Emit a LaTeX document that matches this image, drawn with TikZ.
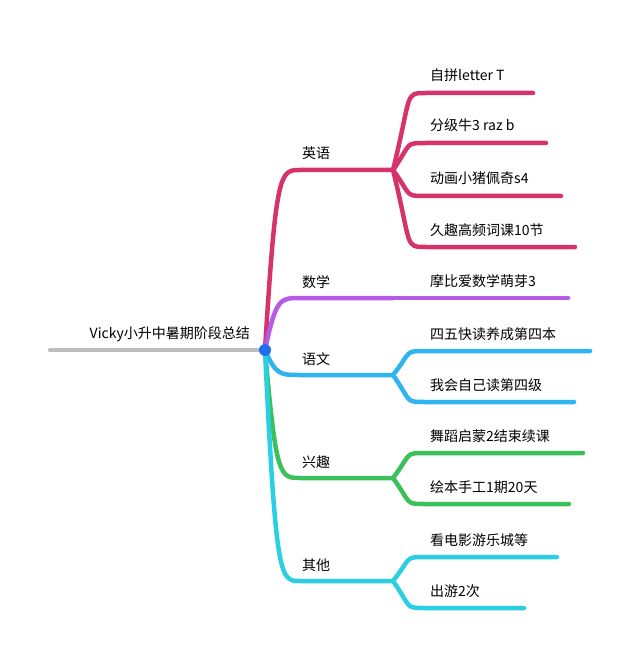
\documentclass[tikz,border=0pt]{standalone}
\usepackage{fontspec}
\setmainfont{Noto Sans CJK SC}
\usetikzlibrary{positioning}
\definecolor{cGrey}{RGB}{190,190,190}
\definecolor{cRed}{RGB}{214,51,108}
\definecolor{cPurple}{RGB}{180,92,232}
\definecolor{cBlue}{RGB}{48,180,240}
\definecolor{cGreen}{RGB}{60,192,90}
\definecolor{cCyan}{RGB}{42,208,225}
\definecolor{cDot}{RGB}{30,110,235}
\tikzset{
  branch/.style={line width=4.5pt, line cap=round},
  lbl/.style={anchor=base west, inner sep=0pt, font=\fontsize{14}{16}\selectfont}
}
\begin{document}
\begin{tikzpicture}[x=1pt, y=-1pt]
        \useasboundingbox (0,0) rectangle (640,660);
        % root
        \coordinate (r0) at (50,350);
        \coordinate (root) at (265,350);
        \draw[branch, cGrey] (r0) -- (root);
        \node (title) [lbl, anchor=base east] at (250,338) {Vicky小升中暑期阶段总结};
        % categories
        \foreach \name/\y/\col/\txt in {en/170/cRed/英语, ma/298/cPurple/数学,
                    cn/375/cBlue/语文, hb/478/cGreen/兴趣, ot/581/cCyan/其他} {
            \coordinate (\name) at (393,\y);
            \draw[branch, \col] (root) .. controls (276,\y) and (280,\y) .. (300,\y) -- (\name);
            \node (\name-t) [lbl] at (302,\y-11) {\txt};
        }
        % leaves
        \foreach \src/\y/\x/\col/\txt [count=\i] in {
                    en/93/533/cRed/自拼letter T, en/143/546/cRed/分级牛3 raz b,
                    en/196/561/cRed/动画小猪佩奇s4, en/247/575/cRed/久趣高频词课10节,
                    ma/298/568/cPurple/摩比爱数学萌芽3,
                    cn/351/590/cBlue/四五快读养成第四本, cn/402/574/cBlue/我会自己读第四级,
                    hb/453/583/cGreen/舞蹈启蒙2结束续课, hb/504/569/cGreen/绘本手工1期20天,
                    ot/557/557/cCyan/看电影游乐城等, ot/608/524/cCyan/出游2次} {
            \coordinate (l\i) at (\x,\y);
            \draw[branch, \col] (\src) .. controls (412,\y) and (404,\y) .. (426,\y) -- (l\i);
            \node (l\i-t) [lbl] at (430,\y-12) {\txt};
        }
        \fill[cDot] (root) circle (6);
        %
        \end{tikzpicture}
\end{document}
